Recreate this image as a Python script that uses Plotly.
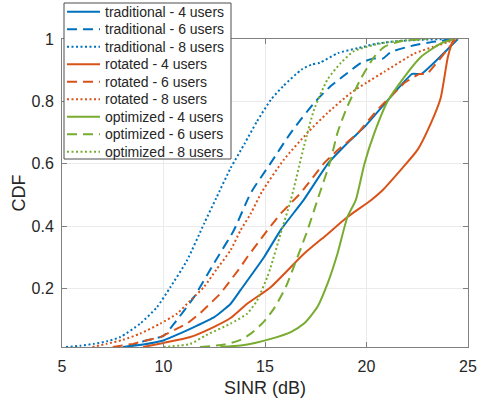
import plotly.graph_objects as go

# ---- data (SINR in dB vs CDF) ----
trad4_x = [8.0, 9.0, 10.0, 10.8, 11.5, 12.5, 13.3, 13.8, 14.95, 15.8, 16.9, 18.1, 19.2, 19.9, 21.0, 22.25, 22.7, 24.5]
trad4_y = [0.012, 0.02, 0.033, 0.055, 0.076, 0.108, 0.15, 0.195, 0.30, 0.39, 0.483, 0.60, 0.675, 0.718, 0.80, 0.888, 0.888, 1.0]

trad6_x = [8.2, 9.0, 10.0, 10.5, 11.5, 12.47, 13.46, 14.3, 15.28, 16.27, 17.42, 18.24, 19.06, 19.72, 20.3, 20.8, 21.2, 22.35, 23.2, 24.4]
trad6_y = [0.012, 0.03, 0.048, 0.085, 0.172, 0.279, 0.386, 0.506, 0.602, 0.699, 0.795, 0.849, 0.891, 0.923, 0.937, 0.937, 0.958, 0.98, 0.99, 1.0]

trad8_x = [5.2, 5.9, 6.55, 7.2, 7.87, 8.85, 9.68, 10.34, 11.16, 12.0, 12.6, 13.3, 14.0, 14.6, 15.3, 15.9, 16.8, 17.3, 17.7, 18.6, 19.6, 20.5, 21.5, 22.5, 24.0]
trad8_y = [0.012, 0.016, 0.022, 0.03, 0.044, 0.087, 0.14, 0.204, 0.29, 0.408, 0.49, 0.585, 0.665, 0.735, 0.806, 0.849, 0.902, 0.918, 0.924, 0.955, 0.971, 0.985, 0.993, 0.997, 1.0]

rot4_x = [9.0, 10.0, 11.32, 12.47, 13.3, 14.12, 15.28, 16.92, 18.0, 19.06, 20.22, 20.79, 21.7, 22.52, 23.18, 23.65, 24.0, 24.2, 24.3]
rot4_y = [0.012, 0.025, 0.044, 0.076, 0.105, 0.151, 0.204, 0.311, 0.37, 0.429, 0.483, 0.515, 0.581, 0.645, 0.731, 0.81, 0.94, 0.985, 1.0]

rot6_x = [7.5, 8.5, 9.84, 10.5, 11.16, 11.8, 12.8, 13.79, 14.12, 15.11, 15.77, 16.76, 17.91, 18.57, 19.56, 20.55, 21.86, 22.25, 22.6, 23.0, 23.43, 24.4]
rot6_y = [0.012, 0.022, 0.044, 0.065, 0.087, 0.12, 0.183, 0.268, 0.30, 0.386, 0.44, 0.506, 0.602, 0.643, 0.697, 0.774, 0.859, 0.875, 0.888, 0.888, 0.921, 1.0]

rot8_x = [6.5, 7.2, 8.0, 8.85, 9.84, 10.67, 11.3, 12.0, 12.6, 13.3, 13.8, 14.3, 14.85, 15.93, 17.09, 18.08, 19.23, 20.0, 20.88, 22.35, 23.3, 24.0, 24.5]
rot8_y = [0.012, 0.022, 0.035, 0.055, 0.087, 0.119, 0.16, 0.205, 0.26, 0.322, 0.387, 0.44, 0.51, 0.613, 0.699, 0.763, 0.827, 0.86, 0.895, 0.953, 0.975, 0.99, 1.0]

opt4_x = [12.8, 13.8, 14.5, 15.28, 16.27, 16.92, 17.58, 18.08, 18.57, 19.06, 19.47, 19.9, 20.38, 21.04, 21.86, 22.69, 23.67, 24.3]
opt4_y = [0.012, 0.017, 0.025, 0.038, 0.06, 0.087, 0.14, 0.215, 0.311, 0.429, 0.483, 0.6, 0.697, 0.80, 0.878, 0.943, 0.986, 1.0]

opt6_x = [11.8, 13.0, 13.8, 14.3, 14.9, 15.44, 16.02, 16.6, 17.09, 17.58, 18.24, 18.57, 19.06, 19.7, 20.38, 20.88, 21.7, 23.0]
opt6_y = [0.012, 0.02, 0.035, 0.055, 0.09, 0.135, 0.204, 0.30, 0.386, 0.483, 0.613, 0.699, 0.784, 0.87, 0.943, 0.975, 0.993, 1.0]

opt8_x = [10.0, 11.32, 12.1, 13.3, 14.12, 14.6, 15.11, 15.28, 15.77, 16.27, 16.92, 17.42, 18.08, 18.73, 19.39, 20.7, 22.0, 23.0]
opt8_y = [0.012, 0.022, 0.05, 0.087, 0.119, 0.16, 0.236, 0.268, 0.376, 0.483, 0.656, 0.774, 0.87, 0.923, 0.961, 0.986, 0.996, 1.0]

x_ticks = [5, 10, 15, 20, 25]
y_ticks = [0.2, 0.4, 0.6, 0.8, 1]
y_tick_text = ["0.2", "0.4", "0.6", "0.8", "1"]

BLUE, ORANGE, GREEN = "#0072BD", "#D95319", "#77AC30"
DASH, DOT = "10px,6px", "2px,2.5px"

# name, x, y, colour, dash, smoothing
series = [
    ("traditional - 4 users", trad4_x, trad4_y, BLUE, "solid", 0.4),
    ("traditional - 6 users", trad6_x, trad6_y, BLUE, DASH, 0.6),
    ("traditional - 8 users", trad8_x, trad8_y, BLUE, DOT, 0.6),
    ("rotated - 4 users", rot4_x, rot4_y, ORANGE, "solid", 0.6),
    ("rotated - 6 users", rot6_x, rot6_y, ORANGE, DASH, 0.0),
    ("rotated - 8 users", rot8_x, rot8_y, ORANGE, DOT, 0.6),
    ("optimized - 4 users", opt4_x, opt4_y, GREEN, "solid", 0.6),
    ("optimized - 6 users", opt6_x, opt6_y, GREEN, DASH, 0.6),
    ("optimized - 8 users", opt8_x, opt8_y, GREEN, DOT, 0.6),
]

W, H = 477, 403
ML, MR, MT, MB = 62, 9, 39, 56
PW, PH = W - ML - MR, H - MT - MB


def px(xp):  # pixel -> paper x
    return (xp - ML) / PW


def py(yp):  # pixel -> paper y
    return (H - MB - yp) / PH


fig = go.Figure()
for name, xs, ys, col, dash, sm in series:
    line = dict(color=col, width=2, dash=dash)
    if sm > 0:
        line.update(shape="spline", smoothing=sm)
    fig.add_trace(go.Scatter(x=xs, y=ys, mode="lines", name=name, line=line))

FONT = "Liberation Sans, Arial, Helvetica, sans-serif"
TXT = "#262626"
AX = "#808080"

# ---- MATLAB-style legend box (drawn as layout items) ----
shapes = [dict(type="rect", xref="paper", yref="paper", layer="above",
               x0=px(64), x1=px(231), y0=py(159), y1=py(3),
               fillcolor="white", line=dict(color="#4d4d4d", width=1))]
annotations = []
row0, step = 11.8, 17.5
for i, (name, xs, ys, col, dash, sm) in enumerate(series):
    yc = row0 + i * step
    shapes.append(dict(type="line", xref="paper", yref="paper", layer="above",
                       x0=px(67), x1=px(100), y0=py(yc), y1=py(yc),
                       line=dict(color=col, width=2, dash=dash)))
    annotations.append(dict(text=name, xref="paper", yref="paper",
                            x=px(102.5), y=py(yc), xanchor="left", yanchor="middle",
                            showarrow=False, font=dict(family=FONT, size=14, color=TXT)))

fig.update_layout(
    width=W, height=H, autosize=False,
    margin=dict(l=ML, r=MR, t=MT, b=MB, pad=0),
    paper_bgcolor="white", plot_bgcolor="white",
    font=dict(family=FONT, color=TXT, size=16),
    showlegend=False,
    shapes=shapes, annotations=annotations,
    xaxis=dict(
        range=[5, 25], tickvals=x_ticks, ticks="inside", ticklen=5,
        tickcolor=AX, showline=True, linecolor=AX, linewidth=1, mirror="ticks",
        showgrid=True, gridcolor="#ebebeb", gridwidth=1, zeroline=False,
        tickfont=dict(size=16, color=TXT), ticklabelstandoff=5,
        title=dict(text="SINR (dB)", font=dict(size=18, color=TXT), standoff=7),
        automargin=False,
    ),
    yaxis=dict(
        range=[0.012, 1], tickvals=y_ticks, ticktext=y_tick_text,
        ticks="inside", ticklen=5,
        tickcolor=AX, showline=True, linecolor=AX, linewidth=1, mirror="ticks",
        showgrid=True, gridcolor="#ebebeb", gridwidth=1, zeroline=False,
        tickfont=dict(size=16, color=TXT), ticklabelstandoff=4,
        title=dict(text="CDF", font=dict(size=18, color=TXT), standoff=1),
        automargin=False,
    ),
)

fig.write_html("out.html")
